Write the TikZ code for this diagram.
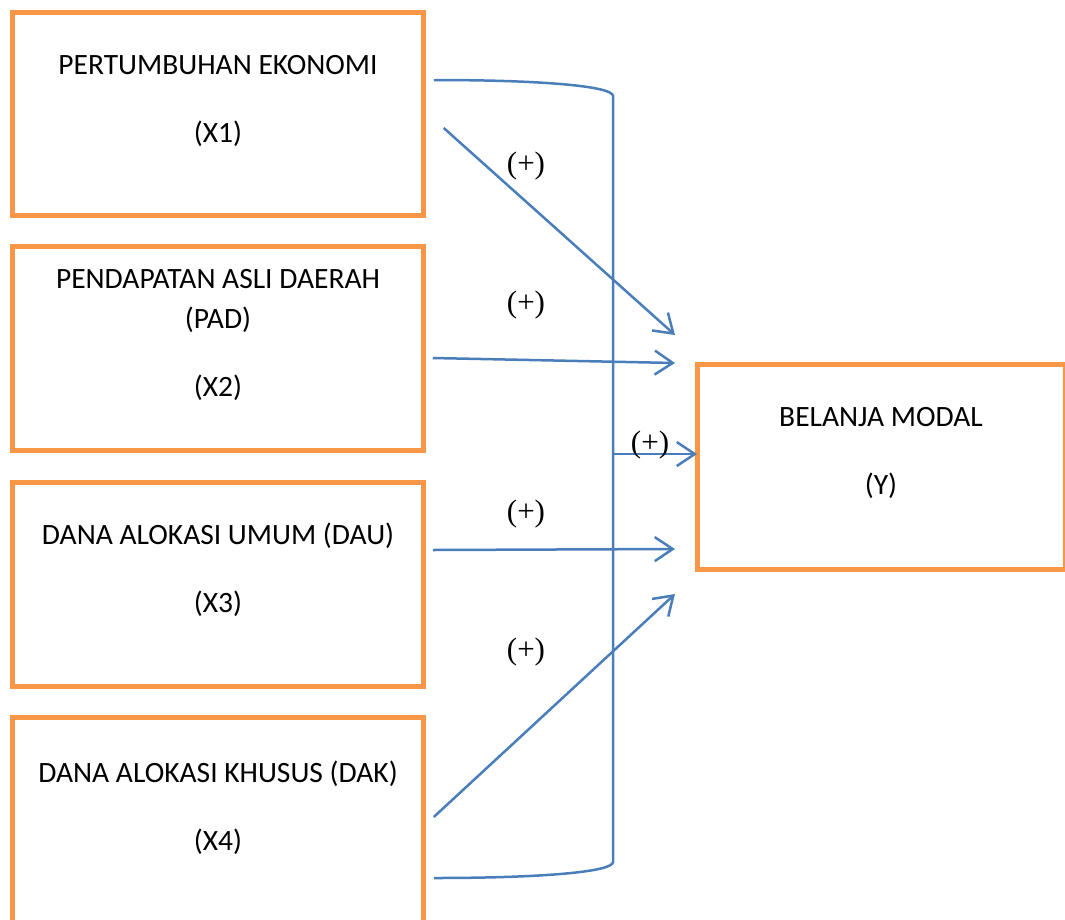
\documentclass[tikz,border=0pt]{standalone}
\usepackage{fontspec}
\setmainfont{Carlito}
\newfontfamily\tnr{Liberation Serif}
\usetikzlibrary{arrows.meta,calc}
\definecolor{boxorange}{RGB}{247,150,70}
\definecolor{arrblue}{RGB}{74,126,187}
\tikzset{
  varbox/.style={draw=boxorange, line width=5pt, rectangle, inner sep=0pt, outer sep=0pt,
    fill=white, font=\fontsize{29.5}{40}\selectfont},
  link/.style={draw=arrblue, line width=2.5pt},
  arr/.style={link, -{Straight Barb[length=18pt,width=24pt,line width=2.5pt]}},
  sign/.style={font=\tnr\fontsize{31}{34}\selectfont, inner sep=0pt},
}
\newcommand\lowpad{\rule[-40pt]{0pt}{1pt}}
\begin{document}
\begin{tikzpicture}[x=1pt,y=-1pt]
\useasboundingbox (0,0) rectangle (1065,919);
\clip (0,0) rectangle (1065,919);

\node[varbox, minimum width=411.5pt, minimum height=203pt] (x1) at (218,114)
  {\begin{tabular}{@{}c@{}}PERTUMBUHAN EKONOMI\\[28pt](X1)\lowpad\end{tabular}};
\node[varbox, minimum width=411.5pt, minimum height=204pt] (x2) at (218,348.5)
  {\begin{tabular}{@{}c@{}}PENDAPATAN ASLI DAERAH\\(PAD)\\[28pt](X2)\lowpad\end{tabular}};
\node[varbox, minimum width=411.5pt, minimum height=204pt] (x3) at (218,584.5)
  {\begin{tabular}{@{}c@{}}DANA ALOKASI UMUM (DAU)\\[28pt](X3)\lowpad\end{tabular}};
\node[varbox, minimum width=411.5pt, minimum height=210pt] (x4) at (218,822)
  {\begin{tabular}{@{}c@{}}DANA ALOKASI KHUSUS (DAK)\\[28pt](X4)\lowpad\end{tabular}};
\node[varbox, minimum width=368pt, minimum height=205pt] (y) at (881,466.5)
  {\begin{tabular}{@{}c@{}}BELANJA MODAL\\[28pt](Y)\lowpad\end{tabular}};

% connector end points
\coordinate (s1) at ($(x1.east)+(20,14)$);
\coordinate (e1) at ($(y.west)+(-22,-131.5)$);
\coordinate (s2) at ($(x2.east)+(9,9.5)$);
\coordinate (e2) at ($(y.west)+(-22,-103.5)$);
\coordinate (s3) at ($(x3.east)+(9,-34.5)$);
\coordinate (e3) at ($(y.west)+(-22,82.5)$);
\coordinate (s4) at ($(x4.east)+(10,-5)$);
\coordinate (e4) at ($(y.west)+(-22,127.5)$);
\coordinate (bt) at ($(x1.east)+(10,-34)$);
\coordinate (bb) at ($(x4.east)+(10,56)$);
\coordinate (bm) at (613,454);

\draw[arr] (s1) -- (e1);
\draw[arr] (s2) -- (e2);
\draw[arr] (s3) -- (e3);
\draw[arr] (s4) -- (e4);
\draw[link] (bt) .. controls (540,80) and (613,86) .. (613,96) -- (613,862)
  .. controls (613,872) and (540,878) .. (bb);
\draw[arr] (bm) -- (bm -| y.west);

\node[sign] (p1) at (526,166) {(+)};
\node[sign] (p2) at (526,305) {(+)};
\node[sign] (p3) at (650,445) {(+)};
\node[sign] (p4) at (526,514) {(+)};
\node[sign] (p5) at (526,652) {(+)};
\end{tikzpicture}
\end{document}
